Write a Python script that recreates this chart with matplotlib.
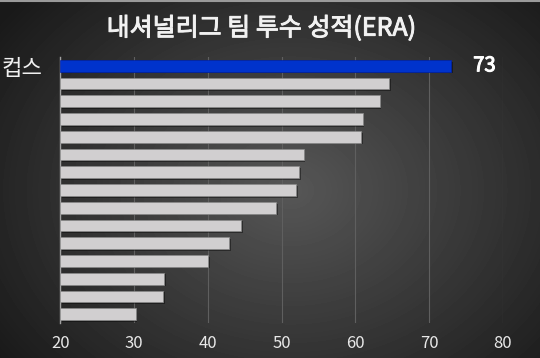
import numpy as np
import matplotlib
matplotlib.use("Agg")
import matplotlib.pyplot as plt
import matplotlib.patheffects as pe
from matplotlib.lines import Line2D

plt.rcParams['font.family'] = ['Noto Sans CJK KR', 'DejaVu Sans']

# ERA bar values, top to bottom (only the Cubs are labelled)
teams = ["컵스"] + [""] * 14
era = [73, 64.6, 63.3, 61.0, 60.8, 53.0, 52.4, 52.0, 49.3, 44.5, 42.9, 40.0, 34.1, 33.9, 30.2]
colors = ["#0033cc"] + ["#d1cfd0"] * 14
xticks = [20, 30, 40, 50, 60, 70, 80]

fig = plt.figure(figsize=(5.4, 3.58), dpi=100)

# radial gradient background
bg = fig.add_axes([0, 0, 1, 1])
yy, xx = np.mgrid[0:358, 0:540]
r = np.sqrt(((xx - 290) / 330.0) ** 2 + ((yy - 190) / 260.0) ** 2)
shade = np.clip(0.34 - 0.22 * r, 0.1, 0.34)
bg.imshow(shade, cmap='gray', vmin=0, vmax=1, aspect='auto', extent=[0, 1, 0, 1])
bg.set_axis_off()
fig.add_artist(Line2D([0, 1], [0.998, 0.998], color='#9a9a9a', lw=1.5, transform=fig.transFigure))

ax = fig.add_axes([0.1120, 0.0978, 0.8190, 0.7430])
ax.patch.set_alpha(0)

y = np.arange(len(era))
left = xticks[0]
bars = ax.barh(y, [v - left for v in era], left=left, height=0.66, color=colors,
               edgecolor='#8a8a8a', linewidth=0.5, zorder=3)
for b in bars:
    b.set_path_effects([pe.SimplePatchShadow(offset=(1.2, -1.2), shadow_rgbFace='black', alpha=0.4), pe.Normal()])
bars[0].set_edgecolor('#0022aa')

semi = [pe.withStroke(linewidth=0.7, foreground='#f2f2f2')]

ax.set_xlim(20, 80)
ax.set_ylim(len(era) - 0.5, -0.5)
ax.set_xticks(xticks)
ax.set_xticklabels([str(t) for t in xticks], color='#e8e8e8', fontsize=12)
ax.set_yticks(y)
ax.set_yticklabels(teams, color='#f0f0f0', fontsize=16)
ax.tick_params(axis='x', length=0, pad=9)
ax.tick_params(axis='y', length=0, pad=13)
ax.grid(axis='x', color='#5f5f5f', linewidth=0.8, zorder=0)
for s in ['top', 'right', 'bottom']:
    ax.spines[s].set_visible(False)
ax.spines['left'].set_color('#a0a0a0')
ax.spines['left'].set_linewidth(1.0)

ax.text(era[0] + 3.0, 0, str(era[0]), color='white', fontsize=14.5,
        va='center', ha='left', path_effects=[pe.withStroke(linewidth=0.8, foreground='white')])

fig.text(0.484, 0.920, "내셔널리그 팀 투수 성적(ERA)", color='#f2f2f2', fontsize=18,
         ha='center', va='center', path_effects=semi)

fig.savefig('out.png', dpi=100)
